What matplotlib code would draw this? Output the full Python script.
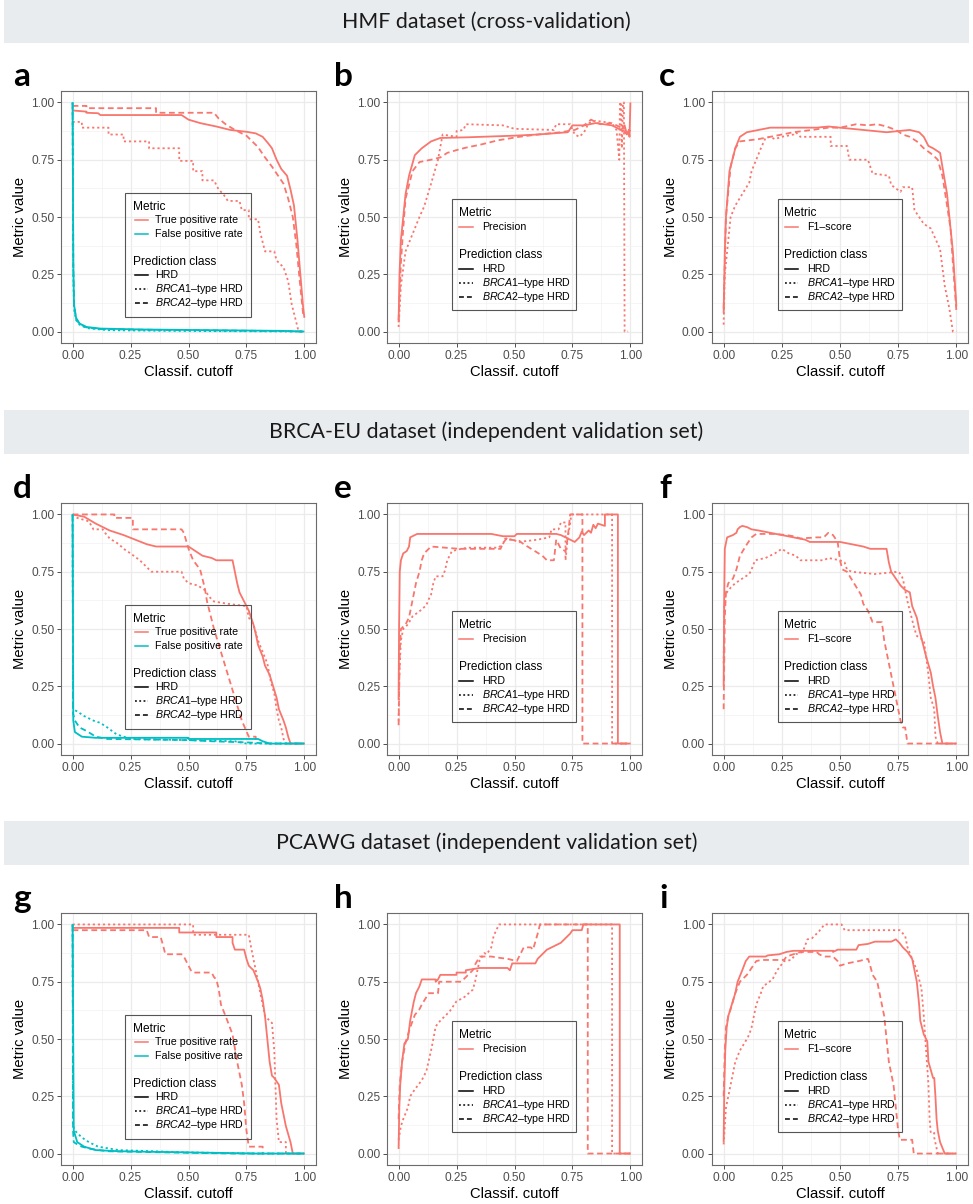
import matplotlib
matplotlib.use("Agg")
import matplotlib.pyplot as plt
from matplotlib.patches import Rectangle

plt.rcParams['font.family'] = ['Liberation Sans', 'DejaVu Sans']
plt.rcParams['mathtext.fontset'] = 'custom'
plt.rcParams['mathtext.rm'] = 'Liberation Sans'
plt.rcParams['mathtext.it'] = 'Liberation Sans:italic'

# ---------------- data (cutoff, metric value) ----------------
# Panel a: HMF, TPR / FPR
a_tpr_hrd = [(0,0.965),(0.06,0.96),(0.06,0.955),(0.11,0.953),(0.12,0.945),(0.47,0.945),(0.5,0.925),(0.55,0.91),(0.62,0.895),(0.68,0.88),(0.75,0.872),(0.79,0.865),(0.82,0.85),(0.845,0.82),(0.86,0.80),(0.88,0.75),(0.90,0.71),(0.925,0.68),(0.94,0.62),(0.955,0.55),(0.97,0.40),(0.985,0.22),(0.995,0.10),(1.0,0.06)]
a_tpr_b1 = [(0,0.915),(0.04,0.915),(0.04,0.89),(0.155,0.89),(0.155,0.86),(0.22,0.86),(0.22,0.83),(0.33,0.83),(0.33,0.80),(0.46,0.80),(0.46,0.745),(0.52,0.745),(0.52,0.70),(0.56,0.70),(0.56,0.66),(0.61,0.66),(0.63,0.62),(0.65,0.60),(0.67,0.57),(0.72,0.57),(0.73,0.53),(0.76,0.53),(0.76,0.49),(0.80,0.49),(0.81,0.43),(0.82,0.39),(0.83,0.35),(0.87,0.35),(0.88,0.31),(0.91,0.28),(0.93,0.22),(0.945,0.12),(0.96,0.06),(0.97,0.02),(0.975,0.0),(0.99,0.0)]
a_tpr_b2 = [(0,0.985),(0.06,0.985),(0.06,0.975),(0.36,0.975),(0.36,0.955),(0.61,0.955),(0.63,0.93),(0.66,0.905),(0.70,0.88),(0.75,0.855),(0.80,0.805),(0.83,0.76),(0.86,0.72),(0.89,0.675),(0.91,0.645),(0.93,0.58),(0.95,0.50),(0.965,0.38),(0.98,0.22),(0.995,0.07)]
a_fpr_hrd = [(0,1.0),(0.003,0.30),(0.006,0.12),(0.015,0.06),(0.03,0.035),(0.06,0.02),(0.12,0.013),(0.3,0.009),(0.6,0.006),(0.9,0.003),(1.0,0.0)]
a_fpr_b1 = [(0,1.0),(0.003,0.25),(0.006,0.10),(0.015,0.05),(0.03,0.03),(0.06,0.015),(0.15,0.006),(0.4,0.003),(0.8,0.001),(1.0,0.0)]
a_fpr_b2 = [(0,1.0),(0.003,0.28),(0.007,0.11),(0.015,0.055),(0.03,0.033),(0.06,0.018),(0.12,0.011),(0.3,0.008),(0.6,0.005),(0.9,0.002),(1.0,0.0)]

# Panel b: HMF precision
b_prec_hrd = [(0,0.04),(0.004,0.25),(0.01,0.40),(0.02,0.50),(0.03,0.60),(0.045,0.68),(0.07,0.77),(0.10,0.80),(0.14,0.83),(0.18,0.845),(0.30,0.848),(0.50,0.855),(0.60,0.86),(0.73,0.87),(0.75,0.90),(0.80,0.90),(0.85,0.91),(0.92,0.90),(0.96,0.88),(0.975,0.90),(0.985,0.86),(0.993,0.88),(0.996,0.85),(1.0,1.0)]
b_prec_b1 = [(0,0.02),(0.01,0.20),(0.03,0.35),(0.07,0.45),(0.09,0.50),(0.11,0.545),(0.14,0.645),(0.17,0.75),(0.19,0.86),(0.25,0.85),(0.25,0.875),(0.28,0.88),(0.29,0.905),(0.45,0.90),(0.50,0.885),(0.67,0.88),(0.68,0.905),(0.74,0.905),(0.76,0.86),(0.78,0.85),(0.80,0.87),(0.82,0.91),(0.85,0.92),(0.92,0.91),(0.94,0.88),(0.952,0.75),(0.955,1.0),(0.96,1.0),(0.963,0.80),(0.968,1.0),(0.972,1.0),(0.975,0.0),(0.99,0.0)]
b_prec_b2 = [(0,0.05),(0.01,0.30),(0.02,0.45),(0.03,0.58),(0.06,0.70),(0.09,0.74),(0.14,0.75),(0.18,0.76),(0.21,0.78),(0.26,0.795),(0.30,0.805),(0.35,0.815),(0.43,0.835),(0.52,0.85),(0.60,0.86),(0.70,0.87),(0.76,0.88),(0.78,0.89),(0.80,0.90),(0.83,0.925),(0.87,0.905),(0.92,0.91),(0.96,0.89),(0.985,0.86),(1.0,0.88)]

# Panel c: HMF F1
c_f1_hrd = [(0,0.08),(0.005,0.35),(0.01,0.50),(0.025,0.70),(0.05,0.80),(0.07,0.85),(0.10,0.87),(0.15,0.88),(0.20,0.89),(0.40,0.89),(0.45,0.895),(0.50,0.89),(0.60,0.88),(0.65,0.875),(0.70,0.87),(0.75,0.875),(0.80,0.88),(0.84,0.87),(0.86,0.85),(0.88,0.81),(0.90,0.80),(0.93,0.78),(0.94,0.72),(0.96,0.60),(0.97,0.50),(0.985,0.35),(1.0,0.11)]
c_f1_b1 = [(0,0.03),(0.005,0.25),(0.02,0.40),(0.03,0.50),(0.05,0.55),(0.08,0.60),(0.11,0.65),(0.12,0.70),(0.14,0.75),(0.16,0.80),(0.18,0.845),(0.20,0.85),(0.22,0.84),(0.25,0.85),(0.30,0.86),(0.31,0.87),(0.33,0.85),(0.46,0.85),(0.46,0.81),(0.53,0.81),(0.54,0.75),(0.62,0.75),(0.64,0.69),(0.71,0.68),(0.72,0.64),(0.76,0.61),(0.77,0.63),(0.81,0.63),(0.82,0.53),(0.84,0.50),(0.86,0.47),(0.89,0.45),(0.93,0.36),(0.95,0.20),(0.97,0.10),(0.985,0.0),(1.0,0.0)]
c_f1_b2 = [(0,0.10),(0.01,0.50),(0.03,0.72),(0.05,0.80),(0.07,0.83),(0.15,0.84),(0.20,0.85),(0.25,0.86),(0.30,0.87),(0.38,0.88),(0.45,0.89),(0.50,0.89),(0.57,0.905),(0.62,0.90),(0.66,0.905),(0.70,0.895),(0.74,0.88),(0.77,0.86),(0.80,0.85),(0.83,0.83),(0.86,0.80),(0.90,0.77),(0.92,0.75),(0.94,0.68),(0.96,0.55),(0.975,0.45),(0.985,0.30),(1.0,0.09)]

# Panel d: BRCA-EU TPR / FPR
d_tpr_hrd = [(0,1.0),(0.05,0.99),(0.10,0.96),(0.14,0.94),(0.16,0.93),(0.22,0.91),(0.27,0.89),(0.32,0.87),(0.36,0.86),(0.50,0.86),(0.53,0.84),(0.56,0.82),(0.60,0.81),(0.62,0.80),(0.69,0.80),(0.70,0.75),(0.71,0.70),(0.72,0.66),(0.74,0.62),(0.76,0.58),(0.78,0.52),(0.79,0.48),(0.80,0.43),(0.82,0.38),(0.83,0.34),(0.85,0.30),(0.865,0.25),(0.88,0.20),(0.89,0.15),(0.91,0.10),(0.92,0.07),(0.93,0.03),(0.94,0.0),(1.0,0.0)]
d_tpr_b1 = [(0,1.0),(0.02,0.985),(0.07,0.97),(0.09,0.935),(0.13,0.935),(0.14,0.92),(0.16,0.895),(0.20,0.87),(0.22,0.85),(0.25,0.83),(0.29,0.80),(0.31,0.78),(0.34,0.75),(0.47,0.75),(0.48,0.72),(0.50,0.70),(0.54,0.69),(0.57,0.67),(0.59,0.64),(0.61,0.62),(0.67,0.61),(0.75,0.60),(0.76,0.55),(0.78,0.52),(0.80,0.45),(0.82,0.40),(0.84,0.35),(0.855,0.27),(0.87,0.22),(0.88,0.15),(0.89,0.10),(0.90,0.07),(0.91,0.02),(0.92,0.0)]
d_tpr_b2 = [(0,1.0),(0.18,1.0),(0.18,0.985),(0.26,0.985),(0.26,0.935),(0.47,0.935),(0.48,0.92),(0.50,0.85),(0.52,0.80),(0.55,0.76),(0.56,0.72),(0.57,0.68),(0.58,0.62),(0.61,0.50),(0.64,0.40),(0.67,0.30),(0.70,0.20),(0.73,0.10),(0.76,0.03),(0.79,0.03),(0.79,0.0)]
d_fpr_hrd = [(0,1.0),(0.003,0.10),(0.01,0.05),(0.04,0.03),(0.10,0.025),(0.50,0.025),(0.50,0.02),(0.80,0.02),(0.82,0.01),(0.85,0.0),(1.0,0.0)]
d_fpr_b1 = [(0,1.0),(0.002,0.15),(0.02,0.14),(0.05,0.12),(0.09,0.10),(0.12,0.09),(0.15,0.07),(0.19,0.04),(0.22,0.03),(0.25,0.02),(0.50,0.015),(0.70,0.01),(0.75,0.0),(1.0,0.0)]
d_fpr_b2 = [(0,1.0),(0.002,0.13),(0.01,0.10),(0.03,0.07),(0.06,0.055),(0.10,0.03),(0.15,0.02),(0.50,0.015),(0.60,0.01),(0.75,0.005),(0.85,0.0),(1.0,0.0)]

# Panel e: BRCA-EU precision
e_prec_hrd = [(0,0.19),(0.002,0.50),(0.005,0.75),(0.01,0.80),(0.02,0.83),(0.035,0.84),(0.045,0.86),(0.05,0.90),(0.07,0.91),(0.08,0.915),(0.40,0.915),(0.45,0.905),(0.50,0.905),(0.51,0.915),(0.68,0.915),(0.70,0.91),(0.72,0.90),(0.76,0.88),(0.78,0.90),(0.79,0.925),(0.80,0.91),(0.82,0.93),(0.83,0.92),(0.84,0.955),(0.85,0.94),(0.86,0.96),(0.89,0.95),(0.89,1.0),(0.946,1.0),(0.946,0.0),(1.0,0.0)]
e_prec_b1 = [(0,0.10),(0.003,0.30),(0.01,0.45),(0.02,0.50),(0.04,0.52),(0.06,0.555),(0.08,0.57),(0.10,0.585),(0.12,0.605),(0.13,0.63),(0.14,0.65),(0.15,0.70),(0.16,0.73),(0.19,0.73),(0.20,0.755),(0.21,0.80),(0.23,0.84),(0.27,0.85),(0.30,0.855),(0.43,0.855),(0.45,0.87),(0.46,0.895),(0.49,0.89),(0.52,0.88),(0.60,0.89),(0.65,0.90),(0.66,0.935),(0.69,0.935),(0.70,0.965),(0.72,0.965),(0.72,0.80),(0.73,0.90),(0.74,0.96),(0.745,1.0),(0.921,1.0),(0.921,0.0),(1.0,0.0)]
e_prec_b2 = [(0,0.08),(0.002,0.20),(0.005,0.40),(0.01,0.50),(0.03,0.52),(0.045,0.55),(0.06,0.625),(0.075,0.70),(0.09,0.75),(0.10,0.80),(0.11,0.83),(0.14,0.86),(0.20,0.855),(0.26,0.85),(0.44,0.85),(0.45,0.875),(0.47,0.90),(0.48,0.89),(0.52,0.885),(0.54,0.87),(0.58,0.845),(0.62,0.82),(0.64,0.80),(0.67,0.80),(0.68,0.89),(0.69,0.87),(0.70,0.85),(0.72,0.84),(0.73,0.90),(0.74,1.0),(0.793,1.0),(0.793,0.0),(1.0,0.0)]

# Panel f: BRCA-EU F1
f_f1_hrd = [(0,0.25),(0.002,0.60),(0.005,0.85),(0.015,0.90),(0.04,0.91),(0.055,0.92),(0.06,0.935),(0.07,0.945),(0.08,0.95),(0.10,0.945),(0.12,0.935),(0.15,0.93),(0.20,0.92),(0.25,0.91),(0.30,0.90),(0.35,0.89),(0.37,0.88),(0.50,0.88),(0.55,0.87),(0.60,0.86),(0.63,0.85),(0.70,0.85),(0.705,0.82),(0.71,0.79),(0.72,0.75),(0.74,0.72),(0.76,0.69),(0.78,0.67),(0.80,0.66),(0.81,0.60),(0.83,0.55),(0.84,0.50),(0.86,0.42),(0.87,0.38),(0.89,0.31),(0.90,0.25),(0.91,0.20),(0.92,0.12),(0.93,0.05),(0.94,0.0),(1.0,0.0)]
f_f1_b1 = [(0,0.35),(0.003,0.60),(0.01,0.655),(0.03,0.68),(0.05,0.70),(0.08,0.72),(0.11,0.74),(0.12,0.76),(0.135,0.80),(0.18,0.81),(0.22,0.83),(0.25,0.85),(0.28,0.83),(0.31,0.82),(0.33,0.80),(0.43,0.80),(0.45,0.81),(0.50,0.80),(0.52,0.79),(0.53,0.76),(0.55,0.75),(0.65,0.74),(0.70,0.745),(0.75,0.75),(0.76,0.74),(0.77,0.72),(0.79,0.62),(0.80,0.58),(0.82,0.50),(0.83,0.47),(0.86,0.45),(0.87,0.38),(0.88,0.30),(0.89,0.20),(0.905,0.15),(0.91,0.03),(0.92,0.0),(1.0,0.0)]
f_f1_b2 = [(0,0.15),(0.005,0.55),(0.01,0.66),(0.02,0.70),(0.04,0.72),(0.055,0.76),(0.07,0.82),(0.10,0.87),(0.12,0.90),(0.14,0.915),(0.22,0.915),(0.27,0.91),(0.30,0.905),(0.33,0.895),(0.40,0.90),(0.43,0.90),(0.45,0.92),(0.47,0.91),(0.49,0.88),(0.50,0.80),(0.51,0.76),(0.53,0.75),(0.56,0.70),(0.59,0.65),(0.60,0.61),(0.62,0.58),(0.64,0.53),(0.68,0.53),(0.69,0.45),(0.71,0.35),(0.73,0.25),(0.76,0.10),(0.77,0.07),(0.78,0.07),(0.79,0.0),(1.0,0.0)]

# Panel g: PCAWG TPR / FPR
g_tpr_hrd = [(0,0.985),(0.46,0.985),(0.46,0.965),(0.62,0.965),(0.62,0.945),(0.69,0.945),(0.69,0.92),(0.70,0.89),(0.74,0.89),(0.75,0.85),(0.76,0.82),(0.78,0.80),(0.80,0.75),(0.81,0.72),(0.82,0.67),(0.83,0.60),(0.84,0.50),(0.85,0.40),(0.86,0.34),(0.87,0.33),(0.89,0.30),(0.90,0.22),(0.91,0.17),(0.92,0.12),(0.94,0.05),(0.95,0.0),(1.0,0.0)]
g_tpr_b1 = [(0,1.0),(0.52,1.0),(0.52,0.955),(0.76,0.955),(0.77,0.90),(0.79,0.80),(0.81,0.70),(0.83,0.60),(0.86,0.57),(0.87,0.45),(0.875,0.30),(0.88,0.15),(0.89,0.05),(0.92,0.05),(0.92,0.0)]
g_tpr_b2 = [(0,0.975),(0.32,0.975),(0.33,0.945),(0.38,0.945),(0.39,0.91),(0.40,0.87),(0.47,0.87),(0.48,0.86),(0.50,0.82),(0.51,0.80),(0.52,0.79),(0.60,0.79),(0.61,0.77),(0.62,0.76),(0.63,0.72),(0.64,0.65),(0.66,0.60),(0.69,0.52),(0.71,0.40),(0.73,0.30),(0.74,0.22),(0.75,0.10),(0.76,0.03),(0.82,0.03),(0.82,0.0)]
g_fpr_hrd = [(0,1.0),(0.005,0.10),(0.02,0.05),(0.05,0.03),(0.10,0.015),(0.20,0.01),(0.50,0.005),(0.80,0.0),(1.0,0.0)]
g_fpr_b1 = [(0,1.0),(0.002,0.12),(0.01,0.10),(0.04,0.07),(0.07,0.05),(0.11,0.03),(0.20,0.015),(0.50,0.005),(0.80,0.0),(1.0,0.0)]
g_fpr_b2 = [(0,1.0),(0.002,0.10),(0.005,0.05),(0.02,0.04),(0.04,0.03),(0.08,0.02),(0.15,0.01),(0.40,0.005),(0.70,0.0),(1.0,0.0)]

# Panel h: PCAWG precision
h_prec_hrd = [(0,0.02),(0.003,0.20),(0.007,0.30),(0.015,0.40),(0.025,0.48),(0.04,0.50),(0.05,0.58),(0.065,0.66),(0.075,0.70),(0.09,0.73),(0.10,0.76),(0.16,0.76),(0.16,0.75),(0.17,0.76),(0.18,0.78),(0.25,0.78),(0.25,0.79),(0.29,0.79),(0.29,0.80),(0.35,0.81),(0.47,0.81),(0.48,0.80),(0.49,0.83),(0.59,0.83),(0.60,0.85),(0.62,0.87),(0.64,0.89),(0.66,0.90),(0.68,0.91),(0.70,0.92),(0.72,0.94),(0.74,0.96),(0.75,0.975),(0.79,0.975),(0.797,1.0),(0.954,1.0),(0.954,0.0),(1.0,0.0)]
h_prec_b1 = [(0,0.06),(0.01,0.12),(0.02,0.15),(0.04,0.20),(0.05,0.25),(0.07,0.28),(0.10,0.32),(0.12,0.36),(0.14,0.45),(0.15,0.50),(0.16,0.555),(0.18,0.58),(0.22,0.62),(0.25,0.665),(0.28,0.68),(0.32,0.715),(0.33,0.75),(0.34,0.80),(0.35,0.845),(0.37,0.875),(0.38,0.87),(0.40,0.90),(0.41,0.95),(0.433,1.0),(0.921,1.0),(0.921,0.0),(1.0,0.0)]
h_prec_b2 = [(0,0.15),(0.005,0.30),(0.015,0.40),(0.03,0.485),(0.05,0.55),(0.07,0.605),(0.09,0.63),(0.10,0.65),(0.13,0.70),(0.17,0.70),(0.175,0.75),(0.27,0.75),(0.28,0.76),(0.30,0.78),(0.32,0.80),(0.33,0.825),(0.35,0.86),(0.40,0.86),(0.43,0.855),(0.47,0.85),(0.51,0.84),(0.52,0.86),(0.53,0.88),(0.54,0.90),(0.57,0.90),(0.58,0.89),(0.60,0.96),(0.61,1.0),(0.816,1.0),(0.816,0.0),(1.0,0.0)]

# Panel i: PCAWG F1
i_f1_hrd = [(0,0.05),(0.003,0.30),(0.007,0.45),(0.013,0.55),(0.02,0.60),(0.035,0.65),(0.05,0.70),(0.06,0.75),(0.08,0.80),(0.095,0.84),(0.11,0.86),(0.18,0.86),(0.19,0.865),(0.24,0.87),(0.27,0.88),(0.30,0.885),(0.47,0.885),(0.47,0.88),(0.49,0.89),(0.57,0.89),(0.58,0.91),(0.62,0.915),(0.65,0.925),(0.72,0.925),(0.74,0.935),(0.755,0.92),(0.77,0.90),(0.79,0.88),(0.81,0.85),(0.82,0.80),(0.83,0.75),(0.84,0.65),(0.845,0.58),(0.86,0.52),(0.875,0.49),(0.88,0.40),(0.90,0.33),(0.905,0.33),(0.91,0.25),(0.915,0.15),(0.92,0.10),(0.93,0.05),(0.95,0.0),(1.0,0.0)]
i_f1_b1 = [(0,0.04),(0.01,0.20),(0.02,0.25),(0.03,0.30),(0.04,0.35),(0.05,0.40),(0.07,0.45),(0.10,0.50),(0.11,0.52),(0.12,0.55),(0.13,0.60),(0.14,0.65),(0.16,0.70),(0.17,0.73),(0.19,0.745),(0.21,0.76),(0.23,0.80),(0.26,0.84),(0.29,0.845),(0.31,0.87),(0.34,0.88),(0.36,0.935),(0.38,0.94),(0.41,0.97),(0.433,1.0),(0.507,1.0),(0.52,0.975),(0.757,0.975),(0.78,0.95),(0.79,0.90),(0.81,0.85),(0.83,0.80),(0.85,0.72),(0.86,0.60),(0.87,0.45),(0.88,0.30),(0.885,0.15),(0.89,0.09),(0.905,0.09),(0.905,0.07),(0.92,0.0),(1.0,0.0)]
i_f1_b2 = [(0,0.25),(0.005,0.45),(0.01,0.55),(0.02,0.60),(0.03,0.63),(0.05,0.70),(0.07,0.75),(0.09,0.77),(0.10,0.78),(0.12,0.81),(0.14,0.84),(0.16,0.845),(0.26,0.845),(0.27,0.86),(0.30,0.87),(0.33,0.88),(0.40,0.88),(0.41,0.87),(0.43,0.86),(0.47,0.86),(0.49,0.84),(0.50,0.82),(0.53,0.83),(0.58,0.84),(0.62,0.85),(0.63,0.82),(0.64,0.78),(0.66,0.75),(0.67,0.70),(0.69,0.60),(0.70,0.50),(0.71,0.40),(0.73,0.30),(0.74,0.20),(0.75,0.10),(0.757,0.06),(0.81,0.06),(0.817,0.0),(1.0,0.0)]

section_titles = ["HMF dataset (cross-validation)",
                  "BRCA-EU dataset (independent validation set)",
                  "PCAWG dataset (independent validation set)"]
panel_letters = ["a", "b", "c", "d", "e", "f", "g", "h", "i"]
tick_values = [0, 0.25, 0.5, 0.75, 1.0]
tick_labels = ["0.00", "0.25", "0.50", "0.75", "1.00"]
class_labels = ["HRD", r"$\mathit{BRCA1}$–type HRD", r"$\mathit{BRCA2}$–type HRD"]

# ---------------- styling ----------------
RED = "#F8766D"
CYAN = "#00BFC4"
LW = 1.3
LS = ["-", (0, (1.2, 1.6)), (0, (3.2, 2.0))]

W, H = 973, 1204
fig = plt.figure(figsize=(W / 100, H / 100), dpi=100)
fig.patch.set_facecolor("white")

def fig_rect(left, top, right, bottom):
    return [left / W, 1 - bottom / H, (right - left) / W, (bottom - top) / H]

# section banners
banner_tb = [(0, 43), (410, 454), (821, 865)]
for (t, b), title in zip(banner_tb, section_titles):
    fig.add_artist(Rectangle((4 / W, 1 - b / H), (969 - 4) / W, (b - t) / H,
                             transform=fig.transFigure, facecolor="#e9ecef",
                             edgecolor="none", zorder=0))
    fig.text(0.5, 1 - ((t + b) / 2) / H, title, ha="center", va="center",
             fontsize=15.4, family=["Lato", "DejaVu Sans"], color="#1a1a1a")

row_tops = [91, 503, 913]
cols = [(61, 316), (387, 642), (712, 968)]
letter_x = [13, 334, 659]

def style_axes(ax):
    ax.set_xlim(-0.05, 1.05)
    ax.set_ylim(-0.05, 1.05)
    ax.set_xticks(tick_values)
    ax.set_xticklabels(tick_labels)
    ax.set_yticks(tick_values)
    ax.set_yticklabels(tick_labels)
    minor = [0.125, 0.375, 0.625, 0.875]
    ax.set_xticks(minor, minor=True)
    ax.set_yticks(minor, minor=True)
    ax.grid(True, which="major", color="#ebebeb", lw=0.9)
    ax.grid(True, which="minor", color="#f2f2f2", lw=0.5)
    ax.set_axisbelow(True)
    ax.tick_params(which="major", length=2.75, width=0.7, color="#4d4d4d",
                   labelsize=8.6, labelcolor="#4d4d4d", pad=2.2)
    ax.tick_params(which="minor", length=0)
    for s in ax.spines.values():
        s.set_color("#6b6b6b")
        s.set_linewidth(0.8)
    ax.set_xlabel("Classif. cutoff", fontsize=10.6, labelpad=2)
    ax.set_ylabel("Metric value", fontsize=10.6, labelpad=3)

def draw(ax, pts, color, ls):
    xs = [p[0] for p in pts]
    ys = [p[1] for p in pts]
    ax.plot(xs, ys, color=color, lw=LW, linestyle=ls, solid_capstyle="butt")

def legend(ax, metric_names, metric_colors, two):
    if two:
        box = (0.251, 0.103, 0.745, 0.595)
        rows_m = [0.540, 0.488, 0.433]
        rows_c = [0.321, 0.270, 0.214, 0.159]
        kx0, kx1, tx, ttx = 0.29, 0.341, 0.369, 0.282
    else:
        box = (0.256, 0.131, 0.742, 0.571)
        rows_m = [0.516, 0.460]
        rows_c = [0.349, 0.294, 0.238, 0.183]
        kx0, kx1, tx, ttx = 0.284, 0.337, 0.373, 0.282
    ax.add_patch(Rectangle((box[0], box[1]), box[2] - box[0], box[3] - box[1],
                           transform=ax.transAxes, fill=False,
                           edgecolor="#555555", lw=0.8, zorder=6, clip_on=False))
    ax.text(ttx, rows_m[0], "Metric", transform=ax.transAxes, fontsize=8.6,
            va="center", ha="left", zorder=7)
    for y, name, col in zip(rows_m[1:], metric_names, metric_colors):
        ax.plot([kx0, kx1], [y, y], transform=ax.transAxes, color=col, lw=1.1,
                zorder=7, clip_on=False)
        ax.text(tx, y, name, transform=ax.transAxes, fontsize=7.7,
                va="center", ha="left", zorder=7)
    ax.text(ttx, rows_c[0], "Prediction class", transform=ax.transAxes,
            fontsize=8.6, va="center", ha="left", zorder=7)
    for y, name, ls in zip(rows_c[1:], class_labels, LS):
        ax.plot([kx0, kx1], [y, y], transform=ax.transAxes, color="black",
                lw=1.1, linestyle=ls, zorder=7, clip_on=False)
        ax.text(tx, y, name, transform=ax.transAxes, fontsize=7.7,
                va="center", ha="left", zorder=7)

panels = [
    ("tpr", [a_tpr_hrd, a_tpr_b1, a_tpr_b2], [a_fpr_hrd, a_fpr_b1, a_fpr_b2]),
    ("prec", [b_prec_hrd, b_prec_b1, b_prec_b2], None),
    ("f1", [c_f1_hrd, c_f1_b1, c_f1_b2], None),
    ("tpr", [d_tpr_hrd, d_tpr_b1, d_tpr_b2], [d_fpr_hrd, d_fpr_b1, d_fpr_b2]),
    ("prec", [e_prec_hrd, e_prec_b1, e_prec_b2], None),
    ("f1", [f_f1_hrd, f_f1_b1, f_f1_b2], None),
    ("tpr", [g_tpr_hrd, g_tpr_b1, g_tpr_b2], [g_fpr_hrd, g_fpr_b1, g_fpr_b2]),
    ("prec", [h_prec_hrd, h_prec_b1, h_prec_b2], None),
    ("f1", [i_f1_hrd, i_f1_b1, i_f1_b2], None),
]

for idx, (kind, red_curves, cyan_curves) in enumerate(panels):
    r, c = divmod(idx, 3)
    top = row_tops[r]
    left, right = cols[c]
    ax = fig.add_axes(fig_rect(left, top, right, top + 252))
    style_axes(ax)
    for pts, ls in zip(red_curves, LS):
        draw(ax, pts, RED, ls)
    if cyan_curves is not None:
        for pts, ls in zip(cyan_curves, LS):
            draw(ax, pts, CYAN, ls)
    if kind == "tpr":
        legend(ax, ["True positive rate", "False positive rate"], [RED, CYAN], True)
    elif kind == "prec":
        legend(ax, ["Precision"], [RED], False)
    else:
        legend(ax, ["F1–score"], [RED], False)
    fig.text(letter_x[c] / W, 1 - (top - 5) / H, panel_letters[idx],
             fontsize=24, fontweight="bold", family=["Lato", "DejaVu Sans"],
             ha="left", va="baseline")

fig.savefig("out.png", dpi=100)
